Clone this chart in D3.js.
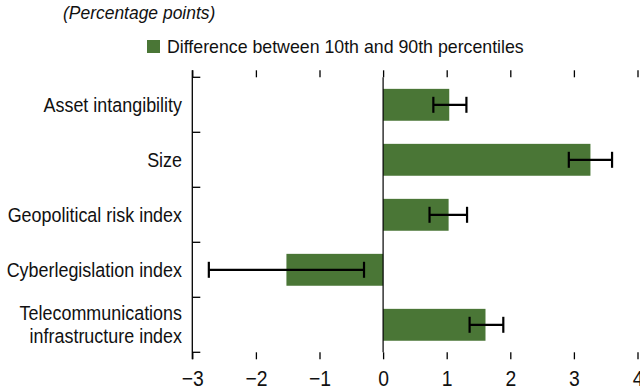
<!DOCTYPE html>
<html>
<head>
<meta charset="utf-8">
<script src="https://cdn.jsdelivr.net/npm/d3@7"></script>
<style>
  html, body { margin: 0; padding: 0; background: #fff; }
  svg { display: block; }
  text { font-family: "Liberation Sans", Arial, sans-serif; fill: #111; }
</style>
</head>
<body>
<svg id="chart" width="640" height="391"></svg>
<script>
// Factors and their effect (difference between 10th and 90th percentiles)
const categories = [
  ["Asset intangibility"],
  ["Size"],
  ["Geopolitical risk index"],
  ["Cyberlegislation index"],
  ["Telecommunications", "infrastructure index"]
];
const values = [1.04, 3.26, 1.03, -1.52, 1.61];
const lowerBounds = [0.79, 2.92, 0.73, -2.74, 1.36];
const upperBounds = [1.31, 3.60, 1.32, -0.30, 1.89];
const xTicks = [-3, -2, -1, 0, 1, 2, 3, 4];
const xTickLabels = ["\u22123", "\u22122", "\u22121", "0", "1", "2", "3", "4"];
const unitLabel = "(Percentage points)";
const legendLabel = "Difference between 10th and 90th percentiles";

const barColor = "#4a7636";
const svg = d3.select("#chart");

const plot = { left: 192.3, right: 637.5, top: 77.3, bottom: 352.3 };

const x = d3.scaleLinear().domain([-3, 4]).range([plot.left, plot.right]);
const y = d3.scaleBand()
  .domain(d3.range(categories.length))
  .range([plot.top, plot.bottom])
  .paddingInner(0.42)
  .paddingOuter(0.21);

// Unit note and legend
svg.append("text")
  .attr("transform", "translate(63,18.5) scale(0.97,1.03)")
  .style("font-size", "18px")
  .style("font-style", "italic")
  .text(unitLabel);

svg.append("rect")
  .attr("x", 147).attr("y", 40)
  .attr("width", 13).attr("height", 13)
  .attr("fill", barColor);
svg.append("text")
  .attr("transform", "translate(167,53) scale(0.97,1.03)")
  .style("font-size", "18.3px")
  .text(legendLabel);

// Bars
svg.append("g").selectAll("rect")
  .data(values)
  .join("rect")
  .attr("x", d => x(Math.min(0, d)))
  .attr("width", d => Math.abs(x(d) - x(0)))
  .attr("y", (d, i) => y(i))
  .attr("height", y.bandwidth())
  .attr("fill", barColor);

// Zero line
svg.append("line")
  .attr("x1", x(0)).attr("x2", x(0))
  .attr("y1", plot.top).attr("y2", plot.bottom)
  .attr("stroke", "#000").attr("stroke-width", 1.2);

// Error bars
const capHalf = 8;
const err = svg.append("g").attr("stroke", "#000").attr("stroke-width", 2.2);
categories.forEach((c, i) => {
  const cy = y(i) + y.bandwidth() / 2;
  err.append("line")
    .attr("x1", x(lowerBounds[i])).attr("x2", x(upperBounds[i]))
    .attr("y1", cy).attr("y2", cy);
  [lowerBounds[i], upperBounds[i]].forEach(v => {
    err.append("line")
      .attr("x1", x(v)).attr("x2", x(v))
      .attr("y1", cy - capHalf).attr("y2", cy + capHalf);
  });
});

// Bottom axis
const xAxis = d3.axisBottom(x)
  .tickValues(xTicks)
  .tickSize(7)
  .tickPadding(11)
  .tickFormat((d, i) => xTickLabels[i]);
const gx = svg.append("g")
  .attr("transform", `translate(0,${plot.bottom})`)
  .call(xAxis);
gx.select(".domain").remove();
gx.selectAll(".tick line").attr("stroke", "#000").attr("stroke-width", 1.3);
gx.selectAll(".tick text")
  .style("font-size", "22.5px")
  .style("font-family", "\"Liberation Sans\", Arial, sans-serif")
  .attr("transform", "scale(0.86,1)")
  .attr("fill", "#111");

// Top ticks (no labels)
const gTop = svg.append("g")
  .attr("transform", `translate(0,${plot.top})`)
  .call(d3.axisTop(x).tickValues(xTicks).tickSize(7).tickFormat(""));
gTop.select(".domain").remove();
gTop.selectAll(".tick line").attr("stroke", "#000").attr("stroke-width", 1.3);

// Left axis line with ticks at category boundaries
const boundaries = d3.range(categories.length + 1)
  .map(i => plot.top + i * (plot.bottom - plot.top) / categories.length);
svg.append("line")
  .attr("x1", plot.left).attr("x2", plot.left)
  .attr("y1", plot.top - 7).attr("y2", plot.bottom + 7)
  .attr("stroke", "#000").attr("stroke-width", 1.3);
svg.append("g").selectAll("line")
  .data(boundaries)
  .join("line")
  .attr("x1", plot.left).attr("x2", plot.left + 8)
  .attr("y1", d => d).attr("y2", d => d)
  .attr("stroke", "#000").attr("stroke-width", 1.3);

// Category labels
const labels = svg.append("g").selectAll("text")
  .data(categories)
  .join("text")
  .attr("text-anchor", "end")
  .style("font-size", "19.5px")
  .attr("transform", (d, i) => {
    const cy = y(i) + y.bandwidth() / 2;
    return `translate(182,${cy}) scale(0.92,1)`;
  });
labels.each(function (lines) {
  const t = d3.select(this);
  const lh = 23;
  const start = -(lines.length - 1) * lh / 2 + 7;
  lines.forEach((ln, k) => {
    t.append("tspan").attr("x", 0).attr("y", start + k * lh).text(ln);
  });
});
</script>
</body>
</html>
